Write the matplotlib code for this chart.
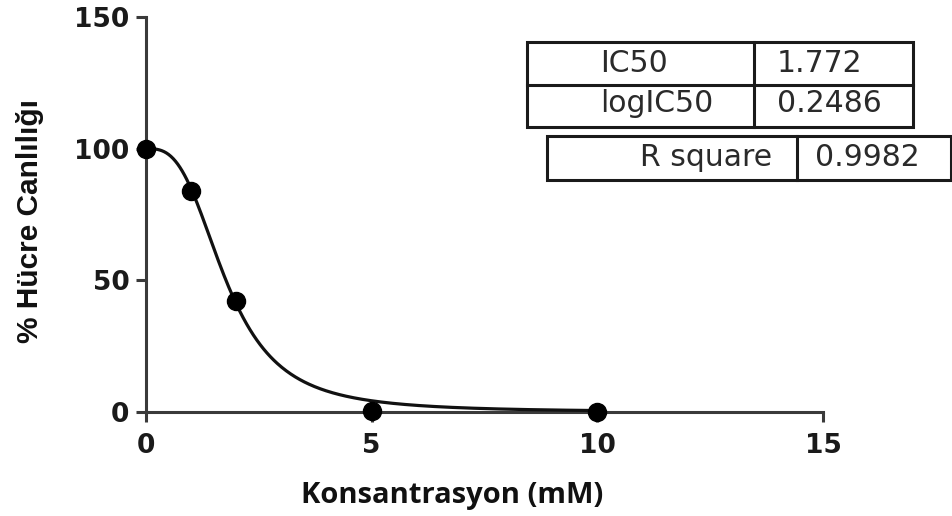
import numpy as np
import matplotlib
matplotlib.use("Agg")
import matplotlib.pyplot as plt
from matplotlib.patches import Rectangle
from matplotlib.lines import Line2D

# Measured viability (%) at each concentration (mM)
concentration = [0, 1, 2, 5, 10]
viability = [100, 84, 42, 0.5, 0]

# Fit results
ic50 = 1.772
log_ic50 = 0.2486
r_square = 0.9982
hill_slope = 3.0

xticks = [0, 5, 10, 15]
yticks = [0, 50, 100, 150]

W, H = 953, 516
fig = plt.figure(figsize=(W / 100, H / 100), dpi=100)
ax = fig.add_axes([146 / W, 1 - 412 / H, (823 - 146) / W, (412 - 17) / H])

axis_color = "#3a3a3a"
xs = np.linspace(0, 10, 400)
curve = 100 / (1 + (xs / ic50) ** hill_slope)
ax.plot(xs, curve, color="#111111", lw=2.3, clip_on=False, zorder=3)
ax.plot(concentration, viability, "o", color="#000000", ms=13, clip_on=False, zorder=4)

ax.set_xlim(0, 15)
ax.set_ylim(0, 150)
ax.set_xticks(xticks)
ax.set_yticks(yticks)
for s in ("top", "right"):
    ax.spines[s].set_visible(False)
for s in ("left", "bottom"):
    ax.spines[s].set_color(axis_color)
    ax.spines[s].set_linewidth(2.2)
ax.tick_params(axis="both", direction="out", length=7, width=2.2, color=axis_color,
               labelsize=19, labelcolor="#1a1a1a")
ax.tick_params(axis="x", pad=8)
ax.tick_params(axis="y", pad=5)
for lab in ax.get_xticklabels() + ax.get_yticklabels():
    lab.set_fontweight("bold")
    lab.set_family("DejaVu Sans")

fig.text(452 / W, 1 - 495 / H, "Konsantrasyon (mM)", ha="center", va="center",
         fontsize=21, fontweight="bold", family="Open Sans", color="#111111")
fig.text(30 / W, 1 - 221 / H, "% Hücre Canlılığı", ha="center", va="center", rotation=90,
         fontsize=21.5, fontweight="bold", family="Liberation Sans", color="#111111")

# Result boxes
def box(x0, y0, x1, y1):
    fig.add_artist(Rectangle((x0 / W, 1 - y1 / H), (x1 - x0) / W, (y1 - y0) / H,
                             fill=False, ec="#1a1a1a", lw=2.2, transform=fig.transFigure))

def hline(x0, x1, y):
    fig.add_artist(Line2D([x0 / W, x1 / W], [1 - y / H, 1 - y / H], color="#1a1a1a", lw=2.2,
                          transform=fig.transFigure))

def vline(x, y0, y1):
    fig.add_artist(Line2D([x / W, x / W], [1 - y0 / H, 1 - y1 / H], color="#1a1a1a", lw=2.2,
                          transform=fig.transFigure))

def cell_text(x, y, s, ha="left"):
    fig.text(x / W, 1 - y / H, s, ha=ha, va="center", fontsize=21.5, family="DejaVu Sans",
             color="#2a2a2a")

box(527, 42, 913, 127)
hline(527, 913, 85)
vline(754, 42, 127)
cell_text(600, 63, "IC50")
cell_text(600, 104, "logIC50")
cell_text(777, 63, f"{ic50:.3f}")
cell_text(777, 104, f"{log_ic50:.4f}")

box(547, 136, 951, 180)
vline(797, 136, 180)
cell_text(772, 158, "R square", ha="right")
cell_text(815, 158, f"{r_square:.4f}")

fig.savefig("out.png", dpi=100)
